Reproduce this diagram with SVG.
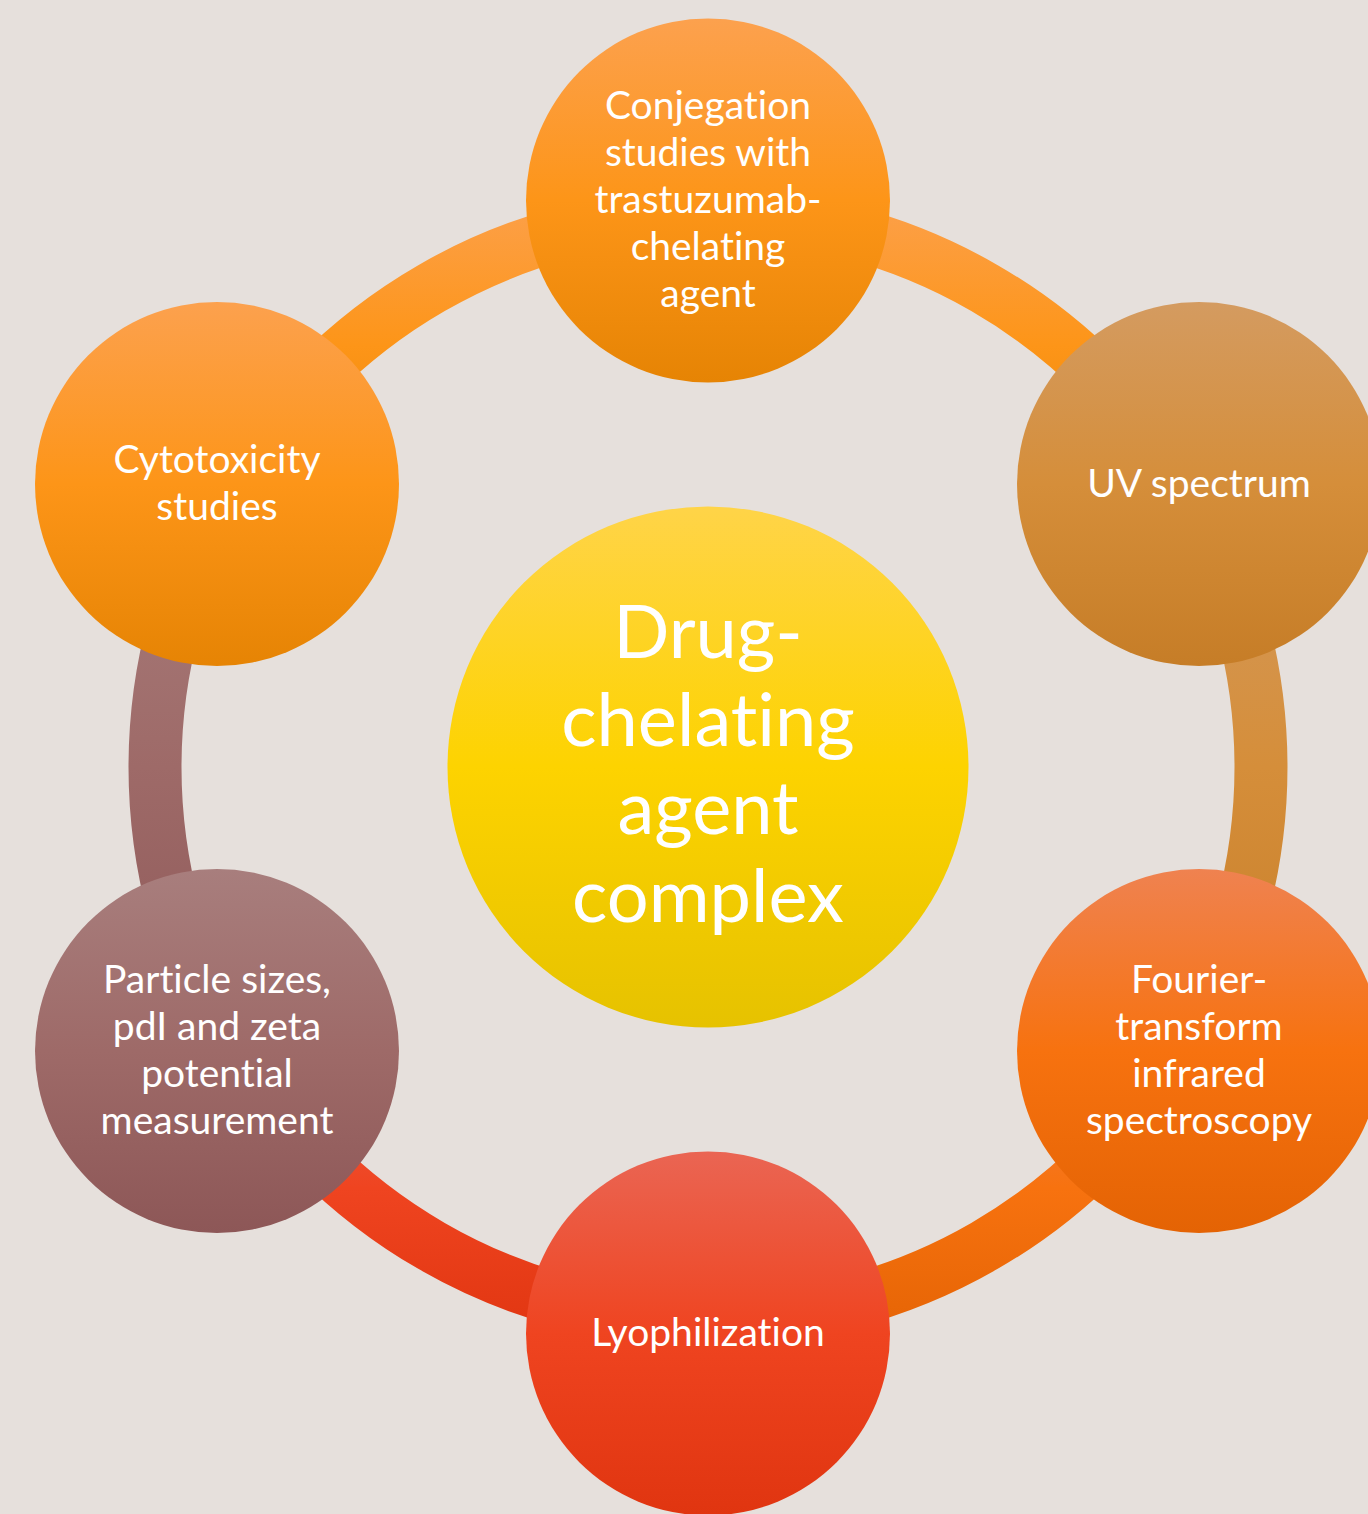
<svg xmlns="http://www.w3.org/2000/svg" width="1368" height="1514" viewBox="0 0 1368 1514">
  <defs>
    <style>
      .lbl { font-family: Lato, "Open Sans", "Liberation Sans", sans-serif; font-size: 39px; fill: #FFFFFF; text-anchor: middle; font-variant-ligatures: none; font-feature-settings: "liga" 0; }
      .ctr { font-family: Lato, "Open Sans", "Liberation Sans", sans-serif; font-size: 74px; fill: #FFFFFF; text-anchor: middle; font-variant-ligatures: none; font-feature-settings: "liga" 0; }
      .arc { fill: none; stroke-width: 53; }
    </style>
    <linearGradient id="gOrange" x1="0" y1="0" x2="0" y2="1">
      <stop offset="0" stop-color="#FCA14E"/>
      <stop offset="0.5" stop-color="#FD9518"/>
      <stop offset="1" stop-color="#E68404"/>
    </linearGradient>
    <linearGradient id="gTan" x1="0" y1="0" x2="0" y2="1">
      <stop offset="0" stop-color="#D49B60"/>
      <stop offset="0.5" stop-color="#D58E3A"/>
      <stop offset="1" stop-color="#C67D27"/>
    </linearGradient>
    <linearGradient id="gDeep" x1="0" y1="0" x2="0" y2="1">
      <stop offset="0" stop-color="#EF8250"/>
      <stop offset="0.5" stop-color="#F7720F"/>
      <stop offset="1" stop-color="#E46304"/>
    </linearGradient>
    <linearGradient id="gRed" x1="0" y1="0" x2="0" y2="1">
      <stop offset="0" stop-color="#EA6553"/>
      <stop offset="0.5" stop-color="#EF4420"/>
      <stop offset="1" stop-color="#E03510"/>
    </linearGradient>
    <linearGradient id="gMauve" x1="0" y1="0" x2="0" y2="1">
      <stop offset="0" stop-color="#A87E7D"/>
      <stop offset="0.5" stop-color="#9E6A68"/>
      <stop offset="1" stop-color="#8D5757"/>
    </linearGradient>
    <linearGradient id="gYellow" x1="0" y1="0" x2="0" y2="1">
      <stop offset="0" stop-color="#FFD448"/>
      <stop offset="0.5" stop-color="#FDD300"/>
      <stop offset="1" stop-color="#E6C200"/>
    </linearGradient>
    <linearGradient id="aTL" gradientUnits="userSpaceOnUse" x1="0" y1="188" x2="0" y2="504">
      <stop offset="0" stop-color="#FCA14E"/>
      <stop offset="0.5" stop-color="#FD9518"/>
      <stop offset="1" stop-color="#E68404"/>
    </linearGradient>
    <linearGradient id="aTR" gradientUnits="userSpaceOnUse" x1="0" y1="188" x2="0" y2="504">
      <stop offset="0" stop-color="#FCA14E"/>
      <stop offset="0.5" stop-color="#FD9518"/>
      <stop offset="1" stop-color="#E68404"/>
    </linearGradient>
    <linearGradient id="aR" gradientUnits="userSpaceOnUse" x1="0" y1="477" x2="0" y2="1057">
      <stop offset="0" stop-color="#D49B60"/>
      <stop offset="0.5" stop-color="#D58E3A"/>
      <stop offset="1" stop-color="#C67D27"/>
    </linearGradient>
    <linearGradient id="aBR" gradientUnits="userSpaceOnUse" x1="0" y1="1030" x2="0" y2="1347">
      <stop offset="0" stop-color="#EF8250"/>
      <stop offset="0.5" stop-color="#F7720F"/>
      <stop offset="1" stop-color="#E46304"/>
    </linearGradient>
    <linearGradient id="aBL" gradientUnits="userSpaceOnUse" x1="0" y1="1030" x2="0" y2="1347">
      <stop offset="0" stop-color="#EA6553"/>
      <stop offset="0.5" stop-color="#EF4420"/>
      <stop offset="1" stop-color="#E03510"/>
    </linearGradient>
    <linearGradient id="aL" gradientUnits="userSpaceOnUse" x1="0" y1="477" x2="0" y2="1057">
      <stop offset="0" stop-color="#A87E7D"/>
      <stop offset="0.5" stop-color="#9E6A68"/>
      <stop offset="1" stop-color="#8D5757"/>
    </linearGradient>
  </defs>

  <rect x="0" y="0" width="1368" height="1514" fill="#E6E0DC"/>

  <g id="connectors">
    <path class="arc" stroke="url(#aTR)" d="M708,214 A553,553 0 0 1 1186.91,490.5"/>
    <path class="arc" stroke="url(#aR)" d="M1186.91,490.5 A553,553 0 0 1 1186.91,1043.5"/>
    <path class="arc" stroke="url(#aBR)" d="M1186.91,1043.5 A553,553 0 0 1 708,1320"/>
    <path class="arc" stroke="url(#aBL)" d="M708,1320 A553,553 0 0 1 229.09,1043.5"/>
    <path class="arc" stroke="url(#aL)" d="M229.09,1043.5 A553,553 0 0 1 229.09,490.5"/>
    <path class="arc" stroke="url(#aTL)" d="M229.09,490.5 A553,553 0 0 1 708,214"/>
  </g>

  <g id="center">
    <circle cx="708" cy="767" r="260.5" fill="url(#gYellow)"/>
    <text class="ctr" x="708" y="658">Drug-</text>
    <text class="ctr" x="708" y="746">chelating</text>
    <text class="ctr" x="708" y="834">agent</text>
    <text class="ctr" x="708" y="922">complex</text>
  </g>

  <g id="node-conjugation">
    <circle cx="708" cy="200.5" r="182" fill="url(#gOrange)"/>
    <text class="lbl" x="708" y="119">Conjegation</text>
    <text class="lbl" x="708" y="166">studies with</text>
    <text class="lbl" x="708" y="213">trastuzumab-</text>
    <text class="lbl" x="708" y="260">chelating</text>
    <text class="lbl" x="708" y="307">agent</text>
  </g>

  <g id="node-uv">
    <circle cx="1199" cy="484" r="182" fill="url(#gTan)"/>
    <text class="lbl" x="1199" y="497">UV spectrum</text>
  </g>

  <g id="node-ftir">
    <circle cx="1199" cy="1051" r="182" fill="url(#gDeep)"/>
    <text class="lbl" x="1199" y="993">Fourier-</text>
    <text class="lbl" x="1199" y="1040">transform</text>
    <text class="lbl" x="1199" y="1087">infrared</text>
    <text class="lbl" x="1199" y="1134">spectroscopy</text>
  </g>

  <g id="node-lyophilization">
    <circle cx="708" cy="1333.5" r="182" fill="url(#gRed)"/>
    <text class="lbl" x="708" y="1346">Lyophilization</text>
  </g>

  <g id="node-particle">
    <circle cx="217" cy="1051" r="182" fill="url(#gMauve)"/>
    <text class="lbl" x="217" y="993">Particle sizes,</text>
    <text class="lbl" x="217" y="1040">pdI and zeta</text>
    <text class="lbl" x="217" y="1087">potential</text>
    <text class="lbl" x="217" y="1134">measurement</text>
  </g>

  <g id="node-cytotoxicity">
    <circle cx="217" cy="484" r="182" fill="url(#gOrange)"/>
    <text class="lbl" x="217" y="473">Cytotoxicity</text>
    <text class="lbl" x="217" y="520">studies</text>
  </g>
</svg>
